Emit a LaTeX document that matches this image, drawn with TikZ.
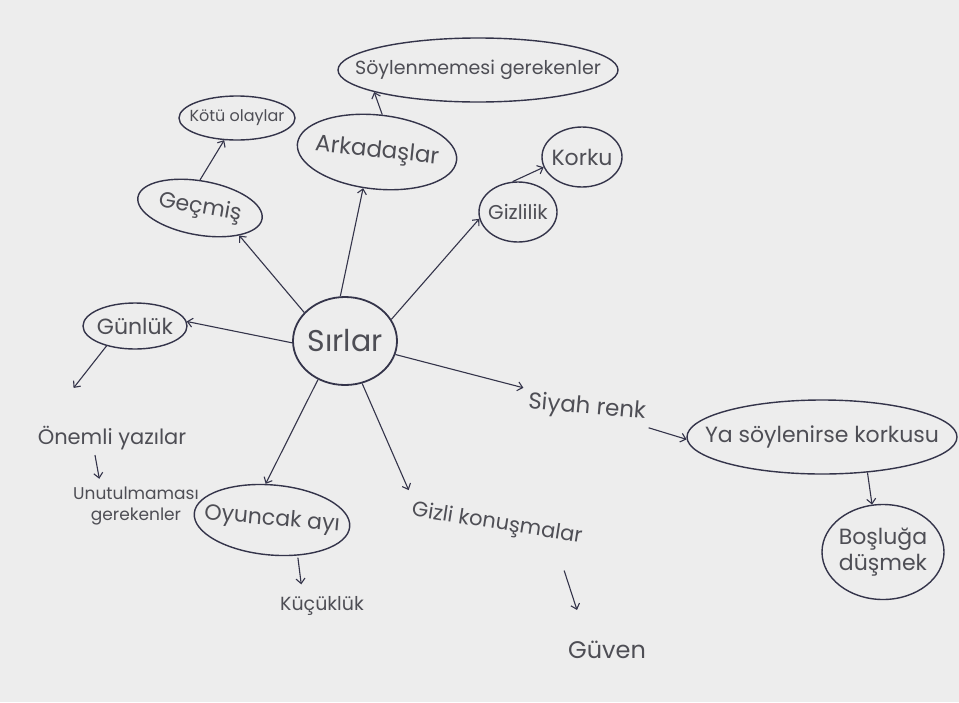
\documentclass[tikz,border=0pt]{standalone}
\usepackage{fontspec}
\setmainfont{Poppins}
\usetikzlibrary{shapes.geometric,arrows.meta,calc}
\definecolor{paper}{HTML}{EDEDED}
\definecolor{ink}{HTML}{34344A}
\definecolor{txt}{HTML}{4E4E55}
\newcommand{\fsz}[1]{\fontsize{#1}{#1}\selectfont}
\tikzset{
  oval/.style={ellipse, draw=ink, line width=1.4pt, text=txt, inner ysep=0pt, align=center},
  plain/.style={text=txt, inner sep=2pt, align=center},
  arr/.style={draw=ink, line width=1.1pt, -{Straight Barb[length=5pt,width=9pt]}},
}
\begin{document}
\begin{tikzpicture}[x=1pt,y=-1pt]
\fill[paper] (0,0) rectangle (959,702);
\useasboundingbox (0,0) rectangle (959,702);

% central
\node[oval, line width=1.8pt, minimum width=104pt, minimum height=88pt, inner xsep=-4pt, font=\fsz{30}] (s) at (345,341) {Sırlar};

% upper branch
\node[oval, minimum width=126pt, minimum height=54pt, inner xsep=-9pt, rotate=-10, font=\fsz{22}] (g) at (200,208) {Geçmiş};
\node[oval, minimum width=116pt, minimum height=44pt, inner xsep=-12pt, font=\fsz{16}] (k) at (237,118) {Kötü olaylar};
\node[oval, minimum width=160pt, minimum height=74pt, inner xsep=-8pt, rotate=-6, font=\fsz{23}] (a) at (377,152) {Arkadaşlar};
\node[oval, minimum width=280pt, minimum height=64pt, inner xsep=-38pt, font=\fsz{19}] (sg) at (478,70) {Söylenmemesi gerekenler};
\node[oval, minimum width=78pt, minimum height=60pt, inner xsep=-7pt, font=\fsz{20}] (gz) at (518,212) {Gizlilik};
\node[oval, minimum width=80pt, minimum height=60pt, inner xsep=-6pt, font=\fsz{22}] (ko) at (582,157) {Korku};

% left
\node[oval, minimum width=104pt, minimum height=46pt, inner xsep=-7pt, font=\fsz{22}] (gu) at (135,326) {Günlük};
\node[plain, font=\fsz{21}] (on) at (112,438) {Önemli yazılar};
\node[plain, font=\fsz{17}] (un) at (136,506) {Unutulmaması\\[4pt]gerekenler};

% lower
\node[oval, minimum width=156pt, minimum height=70pt, inner xsep=-16pt, rotate=-5, font=\fsz{22}] (oy) at (272,520) {Oyuncak ayı};
\node[plain, font=\fsz{19}] (ku) at (322,606) {Küçüklük};
\node[plain, rotate=-9, font=\fsz{21}] (gk) at (497,524) {Gizli konuşmalar};
\node[plain, font=\fsz{24}] (gv) at (607,650) {Güven};

% right
\node[plain, rotate=-5, font=\fsz{23}] (sr) at (587,408) {Siyah renk};
\node[oval, minimum width=270pt, minimum height=74pt, inner xsep=-34pt, font=\fsz{22}] (ya) at (822,437) {Ya söylenirse korkusu};
\node[oval, minimum width=122pt, minimum height=95pt, inner xsep=-5pt, font=\fsz{22}] (bo) at (883,552) {Boşluğa\\[2pt]düşmek};

% connectors
\draw[arr] (s.145) -- (g.-25);
\draw[arr] (g.100) -- (k.-120);
\draw[arr] (s.96) -- (a.255);
\draw[arr] (a.88) -- (sg.192);
\draw[arr] (s.25) -- (gz.190);
\draw[arr] (gz.100) -- (ko.195);
\draw[arr] (s.182) -- (gu.5);
\draw[arr] (gu.215) -- ($(on.north west)+(38,-36)$);
\draw[arr, shorten >=4pt] ($(on.south)+(-17,3)$) -- ($(un.north)+(-36,-2)$);
\draw[arr] (s.235) -- (oy.105);
\draw[arr, shorten >=6pt] ($(oy.south)+(29,2)$) -- ($(ku.north)+(-20,-4)$);
\draw[arr, shorten >=8pt] (s.-68) -- (gk.north west);
\draw[arr] ($(gk.south east)+(-18,20)$) -- ($(gv.north)+(-30,-29)$);
\draw[arr, shorten >=4pt] (s.-15) -- (sr.north west);
\draw[arr, shorten <=2pt] (sr.south east) -- (ya.181);
\draw[arr] (ya.-38) -- (bo.103);
\end{tikzpicture}
\end{document}
